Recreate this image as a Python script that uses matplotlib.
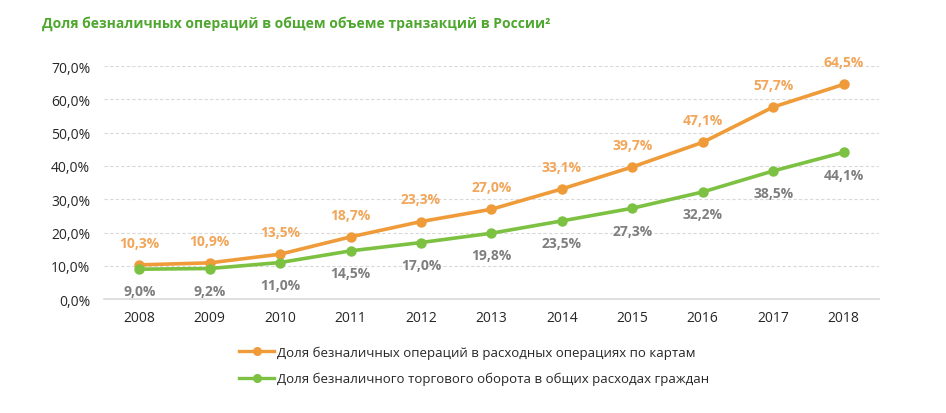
import matplotlib
matplotlib.use("Agg")
import matplotlib.pyplot as plt

plt.rcParams['font.family'] = ['Open Sans', 'DejaVu Sans']

years = ["2008", "2009", "2010", "2011", "2012", "2013", "2014", "2015", "2016", "2017", "2018"]
cards = [10.3, 10.9, 13.5, 18.7, 23.3, 27.0, 33.1, 39.7, 47.1, 57.7, 64.5]
retail = [9.0, 9.2, 11.0, 14.5, 17.0, 19.8, 23.5, 27.3, 32.2, 38.5, 44.1]
yticks = [0, 10, 20, 30, 40, 50, 60, 70]
title = "Доля безналичных операций в общем объеме транзакций в России²"
name_cards = "Доля безналичных операций в расходных операциях по картам"
name_retail = "Доля безналичного торгового оборота в общих расходах граждан"

orange = "#EF9B3A"
orange_lbl = "#F2A65A"
green = "#7CC142"
grey_lbl = "#7F7F7F"

fig = plt.figure(figsize=(9.46, 4.14), dpi=100)
ax = fig.add_axes([0.110, 0.275, 0.819, 0.563])

x = list(range(len(years)))
l1, = ax.plot(x, cards, color=orange, lw=2.6, marker='o', ms=6.5, zorder=3, label=name_cards)
l2, = ax.plot(x, retail, color=green, lw=2.6, marker='o', ms=6.5, zorder=3, label=name_retail)

fmt = lambda v: f"{v:.1f}%".replace('.', ',')
for xi, v in zip(x, cards):
    ax.annotate(fmt(v), (xi, v), xytext=(0, 11), textcoords='offset points',
                ha='center', va='bottom', color=orange_lbl, fontsize=10, fontweight='bold',
                annotation_clip=False)
for xi, v in zip(x, retail):
    ax.annotate(fmt(v), (xi, v), xytext=(0, -11), textcoords='offset points',
                ha='center', va='top', color=grey_lbl, fontsize=10, fontweight='bold',
                annotation_clip=False)

ax.set_xlim(-0.5, len(years) - 0.5)
ax.set_ylim(0, 70)
ax.set_xticks(x)
ax.set_xticklabels(years, fontsize=10, color="#262626")
ax.set_yticks(yticks)
ax.set_yticklabels([f"{t:.1f}%".replace('.', ',') for t in yticks], fontsize=10, color="#262626")
ax.tick_params(length=0, pad=8)
ax.tick_params(axis='y', pad=10)
for s in ['top', 'right', 'left']:
    ax.spines[s].set_visible(False)
ax.spines['bottom'].set_color("#D9D9D9")
ax.spines['bottom'].set_linewidth(1.2)
ax.grid(axis='y', color="#D9D9D9", ls=(0, (3, 2)), lw=0.8)
ax.set_axisbelow(True)
ax.yaxis.get_gridlines()[0].set_visible(False)

fig.text(0.044, 0.944, title, color="#4EA72E", fontsize=10, fontweight='bold', ha='left', va='center')

leg = fig.legend(handles=[l1, l2], loc='upper left', bbox_to_anchor=(0.253, 0.163),
                 frameon=False, fontsize=9.5, handlelength=2.65, handletextpad=0.2,
                 labelspacing=1.0, borderaxespad=0, borderpad=0)
for t in leg.get_texts():
    t.set_color("#262626")
for h in leg.legend_handles:
    h.set_markersize(5.5)
    h.set_linewidth(2.4)

fig.savefig("out.png", dpi=100)
